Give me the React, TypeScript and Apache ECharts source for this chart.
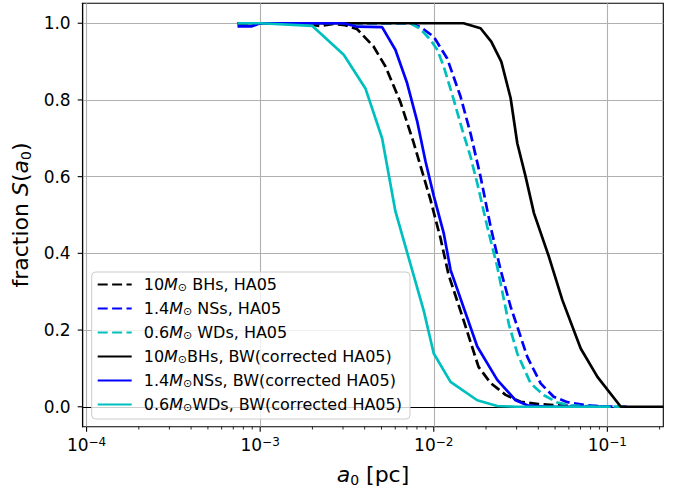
import React, { useEffect, useRef } from 'react';
import * as echarts from 'echarts';

const FONT = 'DejaVu Sans';

const X_MIN = 9.5e-5;
const X_MAX = 0.21;
const Y_MIN = -0.052;
const Y_MAX = 1.052;

const seriesNames = [
  '10M⊙ BHs, HA05',
  '1.4M⊙ NSs, HA05',
  '0.6M⊙ WDs, HA05',
  '10M⊙BHs, BW(corrected HA05)',
  '1.4M⊙NSs, BW(corrected HA05)',
  '0.6M⊙WDs, BW(corrected HA05)',
];
const legendRich = [
  '{t|10}{i|M}{s|⊙}{t| BHs, HA05}',
  '{t|1.4}{i|M}{s|⊙}{t| NSs, HA05}',
  '{t|0.6}{i|M}{s|⊙}{t| WDs, HA05}',
  '{t|10}{i|M}{s|⊙}{t|BHs, BW(corrected HA05)}',
  '{t|1.4}{i|M}{s|⊙}{t|NSs, BW(corrected HA05)}',
  '{t|0.6}{i|M}{s|⊙}{t|WDs, BW(corrected HA05)}',
];
const colors = ['#000000', '#0000ff', '#00bfbf', '#000000', '#0000ff', '#00bfbf'];
const dashed = [true, true, true, false, false, false];

const bhHA05: [number, number][] = [
  [7.4e-4, 1.0], [1.7e-3, 1.0], [2.22e-3, 0.993], [2.64e-3, 0.998], [3.09e-3, 0.995],
  [3.61e-3, 0.985], [4.49e-3, 0.94], [5.26e-3, 0.888], [6.42e-3, 0.795], [7.64e-3, 0.69],
  [9.57e-3, 0.54], [1.093e-2, 0.44], [1.216e-2, 0.345], [1.484e-2, 0.226], [1.811e-2, 0.104],
  [2.124e-2, 0.062], [2.593e-2, 0.031], [3.164e-2, 0.013], [4.0e-2, 0.007], [5.17e-2, 0.004],
  [6.57e-2, 0.001], [0.1046, 0.0],
];
const nsHA05: [number, number][] = [
  [7.4e-4, 1.0], [7.34e-3, 1.0], [8.38e-3, 0.99], [1.0e-2, 0.965], [1.195e-2, 0.908],
  [1.426e-2, 0.809], [1.628e-2, 0.713], [1.86e-2, 0.6], [2.124e-2, 0.47], [2.426e-2, 0.357],
  [2.771e-2, 0.261], [3.028e-2, 0.209], [3.458e-2, 0.13], [4.127e-2, 0.061], [4.905e-2, 0.026],
  [5.886e-2, 0.012], [7.308e-2, 0.005], [9.16e-2, 0.001], [0.1294, 0.0],
];
const wdHA05: [number, number][] = [
  [7.4e-4, 1.0], [7.34e-3, 1.0], [8.38e-3, 0.985], [9.57e-3, 0.957], [1.05e-2, 0.93],
  [1.142e-2, 0.887], [1.304e-2, 0.8], [1.464e-2, 0.72], [1.628e-2, 0.652], [1.78e-2, 0.583],
  [2.032e-2, 0.47], [2.321e-2, 0.365], [2.709e-2, 0.215], [3.028e-2, 0.139], [3.614e-2, 0.061],
  [4.312e-2, 0.03], [5.152e-2, 0.011], [6.15e-2, 0.004], [7.02e-2, 0.002], [0.1294, 0.0],
];
const bhBW: [number, number][] = [
  [7.4e-4, 1.0], [1.484e-2, 1.0], [1.86e-2, 0.987], [2.144e-2, 0.952], [2.449e-2, 0.9],
  [2.771e-2, 0.805], [3.028e-2, 0.687], [3.381e-2, 0.6], [3.776e-2, 0.505], [4.608e-2, 0.391],
  [5.507e-2, 0.278], [7.022e-2, 0.152], [8.767e-2, 0.078], [0.1195, 0.0], [0.21, 0.0],
];
const nsBW: [number, number][] = [
  [7.4e-4, 0.992], [8.96e-4, 0.992], [1.0e-3, 1.0], [3.03e-3, 1.0], [3.61e-3, 0.991],
  [5.04e-3, 0.99], [6.01e-3, 0.931], [7.02e-3, 0.844], [8.02e-3, 0.745], [8.96e-3, 0.64],
  [1.0e-2, 0.55], [1.142e-2, 0.452], [1.249e-2, 0.357], [1.78e-2, 0.157], [2.321e-2, 0.07],
  [2.96e-2, 0.017], [3.458e-2, 0.004], [4.5e-2, 0.0], [0.1046, 0.0],
];
const wdBW: [number, number][] = [
  [7.4e-4, 1.0], [1.0e-3, 1.0], [2.0e-3, 0.993], [3.03e-3, 0.918], [4.04e-3, 0.83],
  [5.04e-3, 0.7], [6.01e-3, 0.51], [8.76e-3, 0.25], [1.0e-2, 0.139], [1.249e-2, 0.065],
  [1.78e-2, 0.017], [2.321e-2, 0.002], [3.0e-2, 0.0], [0.1046, 0.0],
];
const allData = [bhHA05, nsHA05, wdHA05, bhBW, nsBW, wdBW];

const xMajorTicks = [1e-4, 1e-3, 1e-2, 1e-1];
const yTicks = [0, 0.2, 0.4, 0.6, 0.8, 1.0];

function buildTickData() {
  const out: number[][] = [];
  xMajorTicks.forEach((t) => {
    out.push([t, Y_MIN, 0]);
    for (let k = 2; k <= 9; k++) {
      const v = k * t;
      if (v > X_MIN && v < X_MAX) out.push([v, Y_MIN, 1]);
    }
  });
  yTicks.forEach((t) => out.push([X_MIN, t, 2]));
  return out;
}

const subRich = {
  t: { fontFamily: FONT, fontSize: 22, lineHeight: 22, verticalAlign: 'top', color: '#000' },
  i: { fontFamily: FONT, fontSize: 22, lineHeight: 22, verticalAlign: 'top', fontStyle: 'italic', color: '#000' },
  s: { fontFamily: FONT, fontSize: 14, padding: [9, 0, 0, 0], verticalAlign: 'bottom', color: '#000' },
};

export default function App() {
  const ref = useRef<HTMLDivElement>(null);
  useEffect(() => {
    if (!ref.current) return;
    const chart = echarts.init(ref.current, undefined, { renderer: 'svg' });
    const series: any[] = allData.map((d, i) => ({
      name: seriesNames[i],
      type: 'line',
      data: d,
      symbol: 'none',
      showSymbol: false,
      clip: true,
      lineStyle: {
        color: colors[i],
        width: 2.7,
        type: dashed[i] ? [10, 4.4] : 'solid',
      },
      itemStyle: { color: colors[i] },
    }));
    series.push({
      type: 'custom',
      name: 'ticks',
      clip: false,
      silent: true,
      data: buildTickData(),
      renderItem: (params: any, api: any) => {
        const kind = api.value(2);
        if (kind === 2) {
          const p = api.coord([X_MIN, api.value(1)]);
          return {
            type: 'line',
            shape: { x1: p[0] - 5, y1: p[1], x2: p[0], y2: p[1] },
            style: { stroke: '#000', lineWidth: 1.1 },
          };
        }
        const p = api.coord([api.value(0), Y_MIN]);
        const len = kind === 0 ? 5 : 2.8;
        return {
          type: 'line',
          shape: { x1: p[0], y1: p[1], x2: p[0], y2: p[1] + len },
          style: { stroke: '#000', lineWidth: kind === 0 ? 1.1 : 0.85 },
        };
      },
      z: 5,
    });

    chart.setOption({
      animation: false,
      backgroundColor: '#ffffff',
      grid: {
        left: 82.7,
        right: 17.7,
        top: 3.3,
        bottom: 65.3,
        show: true,
        borderColor: '#000',
        borderWidth: 1.1,
        backgroundColor: 'transparent',
      },
      xAxis: {
        type: 'log',
        logBase: 10,
        min: X_MIN,
        max: X_MAX,
        axisLine: { show: true, lineStyle: { color: '#000', width: 1.1 } },
        axisTick: { show: false },
        minorTick: { show: false },
        splitLine: { show: true, showMinLine: false, showMaxLine: false, lineStyle: { color: '#b0b0b0', width: 1.1 } },
        axisLabel: {
          showMinLabel: false,
          showMaxLabel: false,
          margin: 9,
          formatter: (v: number) => {
            const l = Math.log10(v);
            const e = Math.round(l);
            if (Math.abs(l - e) > 1e-6) return '';
            return `{b|10}{p|${e < 0 ? '\u2212' : ''}${Math.abs(e)}}`;
          },
          rich: {
            b: { fontFamily: FONT, fontSize: 17, lineHeight: 17, verticalAlign: 'bottom', color: '#000' },
            p: { fontFamily: FONT, fontSize: 12, padding: [0, 0, 6, 0], verticalAlign: 'top', color: '#000' },
          },
        },
        name: '{i|a}{s|0}{t| [pc]}',
        nameLocation: 'middle',
        nameGap: 37,
        nameTextStyle: { rich: subRich },
      },
      yAxis: {
        type: 'value',
        min: Y_MIN,
        max: Y_MAX,
        splitNumber: 5,
        axisLine: { show: true, lineStyle: { color: '#000', width: 1.1 } },
        axisTick: { show: false },
        splitLine: { show: true, showMinLine: false, showMaxLine: false, lineStyle: { color: '#b0b0b0', width: 1.1 } },
        axisLabel: {
          showMinLabel: false,
          showMaxLabel: false,
          margin: 12,
          fontFamily: FONT,
          fontSize: 17,
          color: '#000',
          formatter: (v: number) => v.toFixed(1),
        },
        name: '{t|fraction }{i|S}{t|(}{i|a}{s|0}{t|)}',
        nameLocation: 'middle',
        nameRotate: 90,
        nameGap: 46,
        nameTextStyle: { rich: subRich },
      },
      legend: {
        data: seriesNames,
        orient: 'vertical',
        left: 91.7,
        top: 272,
        padding: [4, 8, 6, 5],
        itemGap: 7,
        itemWidth: 34,
        itemHeight: 14,
        backgroundColor: 'rgba(255,255,255,0.8)',
        borderColor: '#cccccc',
        borderWidth: 1,
        borderRadius: 4,
        itemStyle: { color: 'rgba(0,0,0,0)', borderWidth: 0, opacity: 0 },
        formatter: (name: string) => legendRich[seriesNames.indexOf(name)],
        textStyle: {
          padding: [0, 0, 0, 7],
          rich: {
            t: { fontFamily: FONT, fontSize: 16, lineHeight: 16, verticalAlign: 'top', color: '#000' },
            i: { fontFamily: FONT, fontSize: 16, lineHeight: 16, verticalAlign: 'top', fontStyle: 'italic', color: '#000' },
            s: { fontFamily: FONT, fontSize: 11, padding: [6, 0, 0, 0], verticalAlign: 'bottom', color: '#000' },
          },
        },
      },
      series,
    });
    return () => chart.dispose();
  }, []);
  return (
    <div
      ref={ref}
      style={{ position: 'absolute', left: 0, top: 0, width: 681, height: 492 }}
    />
  );
}
